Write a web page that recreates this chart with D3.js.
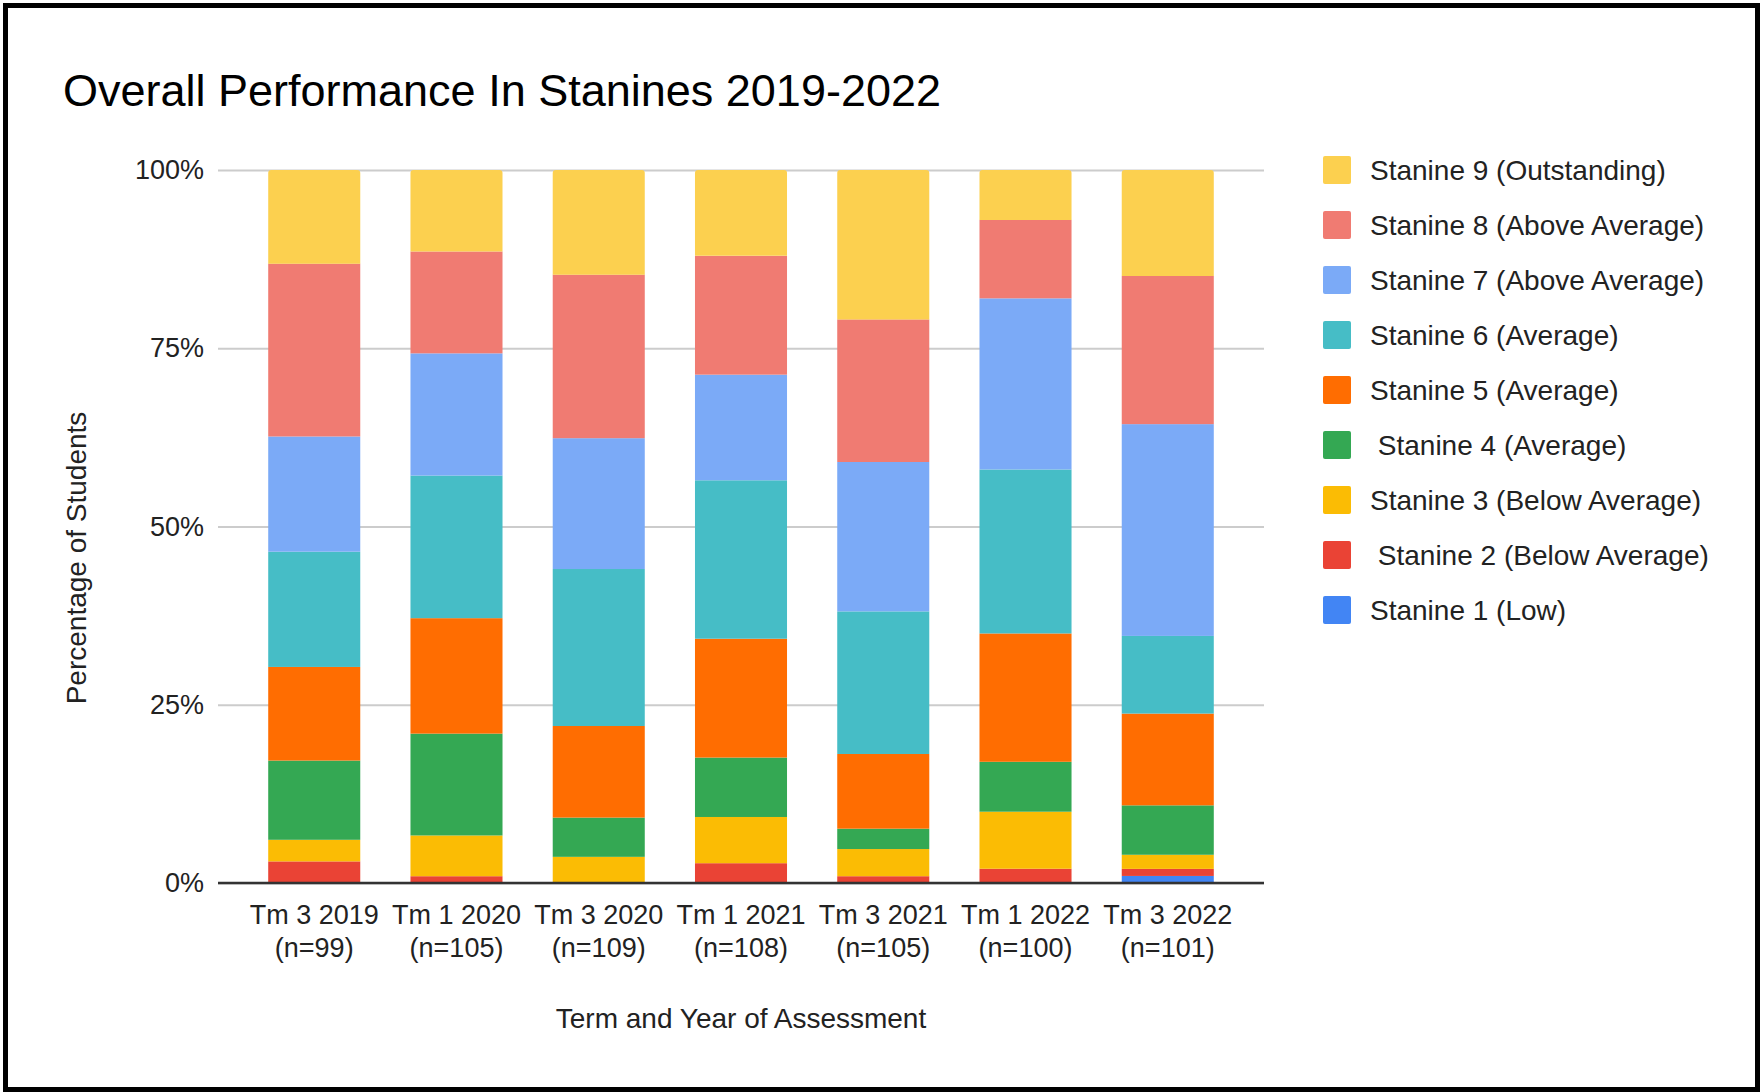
<!DOCTYPE html>
<html>
<head>
<meta charset="utf-8">
<script src="https://cdn.jsdelivr.net/npm/d3@7"></script>
<style>
  body { margin: 0; background: #fff; }
  svg { display: block; font-family: "Liberation Sans", Arial, sans-serif; }
</style>
</head>
<body>
<svg id="chart" width="1760" height="1092"></svg>
<script>
// categories (term + sample size)
const terms = ["Tm 3 2019", "Tm 1 2020", "Tm 3 2020", "Tm 1 2021", "Tm 3 2021", "Tm 1 2022", "Tm 3 2022"];
const sampleSizes = [99, 105, 109, 108, 105, 100, 101];

// student counts per stanine
const stanine1 = [0, 0, 0, 0, 0, 0, 1];
const stanine2 = [3, 1, 0, 3, 1, 2, 1];
const stanine3 = [3, 6, 4, 7, 4, 8, 2];
const stanine4 = [11, 15, 6, 9, 3, 7, 7];
const stanine5 = [13, 17, 14, 18, 11, 18, 13];
const stanine6 = [16, 21, 24, 24, 21, 23, 11];
const stanine7 = [16, 18, 20, 16, 22, 24, 30];
const stanine8 = [24, 15, 25, 18, 21, 11, 21];
const stanine9 = [13, 12, 16, 13, 22, 7, 15];

const seriesNames = [
  "Stanine 1 (Low)",
  " Stanine 2 (Below Average)",
  "Stanine 3 (Below Average)",
  " Stanine 4 (Average)",
  "Stanine 5 (Average)",
  "Stanine 6 (Average)",
  "Stanine 7 (Above Average)",
  "Stanine 8 (Above Average)",
  "Stanine 9 (Outstanding)"
];
const seriesColors = ["#4285f4", "#ea4335", "#fbbc04", "#34a853", "#ff6d01", "#46bdc6", "#7baaf7", "#f07b72", "#fcd04f"];
const yTicks = [0, 0.25, 0.5, 0.75, 1];

const seriesValues = [stanine1, stanine2, stanine3, stanine4, stanine5, stanine6, stanine7, stanine8, stanine9];
const keys = seriesValues.map((_, i) => "s" + (i + 1));
const rows = terms.map((t, j) => {
  const r = { term: t, n: sampleSizes[j] };
  keys.forEach((k, i) => (r[k] = seriesValues[i][j]));
  return r;
});

const svg = d3.select("#chart");
const W = 1760, H = 1092;
const plot = { left: 218, right: 1264, top: 170, bottom: 883 };

// frame
svg.append("rect")
  .attr("x", 5.5).attr("y", 5.5)
  .attr("width", W - 8).attr("height", H - 8)
  .attr("fill", "#fff").attr("stroke", "#000").attr("stroke-width", 5);

svg.append("text")
  .attr("x", 63).attr("y", 106)
  .attr("font-size", 45).attr("fill", "#000")
  .text("Overall Performance In Stanines 2019-2022");

const x = d3.scaleBand().domain(terms).range([plot.left, plot.right]).padding(0.353);
const y = d3.scaleLinear().domain([0, 1]).range([plot.bottom, plot.top]);
const color = d3.scaleOrdinal().domain(keys).range(seriesColors);

// gridlines + y labels
const yAxis = svg.append("g")
  .attr("transform", `translate(${plot.left},0)`)
  .call(d3.axisLeft(y).tickValues(yTicks).tickFormat(d3.format(".0%"))
    .tickSize(-(plot.right - plot.left)).tickPadding(14));
yAxis.select(".domain").remove();
yAxis.selectAll(".tick line").attr("stroke", "#cccccc").attr("stroke-width", 2);
yAxis.selectAll(".tick text").attr("font-size", 27).attr("fill", "#222")
  .attr("font-family", "Liberation Sans, Arial, sans-serif");

const stacked = d3.stack().keys(keys).offset(d3.stackOffsetExpand)(rows);

// path with rounded top corners for the top segment
function roundedTop(x0, y0, w, h, r) {
  return `M${x0},${y0 + h}V${y0 + r}Q${x0},${y0} ${x0 + r},${y0}H${x0 + w - r}Q${x0 + w},${y0} ${x0 + w},${y0 + r}V${y0 + h}Z`;
}

const layers = svg.append("g").selectAll("g")
  .data(stacked).join("g")
  .attr("fill", d => color(d.key));

layers.each(function (layer, i) {
  const g = d3.select(this);
  const segs = layer.filter(d => d[1] - d[0] > 0);
  if (i === stacked.length - 1) {
    g.selectAll("path").data(segs).join("path")
      .attr("d", d => roundedTop(x(d.data.term), y(d[1]), x.bandwidth(), y(d[0]) - y(d[1]), 3));
  } else {
    g.selectAll("rect").data(segs).join("rect")
      .attr("x", d => x(d.data.term))
      .attr("y", d => y(d[1]))
      .attr("width", x.bandwidth())
      .attr("height", d => y(d[0]) - y(d[1]));
  }
});

// baseline
svg.append("line")
  .attr("x1", plot.left).attr("x2", plot.right)
  .attr("y1", y(0)).attr("y2", y(0))
  .attr("stroke", "#333").attr("stroke-width", 2.5);

// x labels (two lines)
const xAxis = svg.append("g")
  .attr("transform", `translate(0,${plot.bottom})`)
  .call(d3.axisBottom(x).tickSize(0).tickFormat(() => ""));
xAxis.select(".domain").remove();
xAxis.selectAll(".tick text").remove();
xAxis.selectAll(".tick").each(function (d, i) {
  const t = d3.select(this).append("text")
    .attr("text-anchor", "middle").attr("font-size", 27).attr("fill", "#222")
    .attr("font-family", "Liberation Sans, Arial, sans-serif");
  t.append("tspan").attr("x", 0).attr("y", 41).text(d);
  t.append("tspan").attr("x", 0).attr("y", 74).text(`(n=${sampleSizes[i]})`);
});

// axis titles
svg.append("text")
  .attr("x", (plot.left + plot.right) / 2).attr("y", 1028)
  .attr("text-anchor", "middle").attr("font-size", 28).attr("fill", "#222")
  .text("Term and Year of Assessment");

svg.append("text")
  .attr("transform", "translate(86,558) rotate(-90)")
  .attr("text-anchor", "middle").attr("font-size", 28).attr("fill", "#222")
  .text("Percentage of Students");

// legend, top stanine first
const legendKeys = keys.slice().reverse();
const legend = svg.append("g").selectAll("g")
  .data(legendKeys).join("g")
  .attr("transform", (d, i) => `translate(1323,${170 + i * 55})`);
legend.append("rect")
  .attr("x", 0).attr("y", -14).attr("width", 28).attr("height", 28).attr("rx", 2)
  .attr("fill", d => color(d));
legend.append("text")
  .attr("x", 47).attr("y", 0).attr("dy", "0.35em")
  .attr("font-size", 28).attr("fill", "#222")
  .style("white-space", "pre")
  .text(d => seriesNames[keys.indexOf(d)]);
</script>
</body>
</html>
